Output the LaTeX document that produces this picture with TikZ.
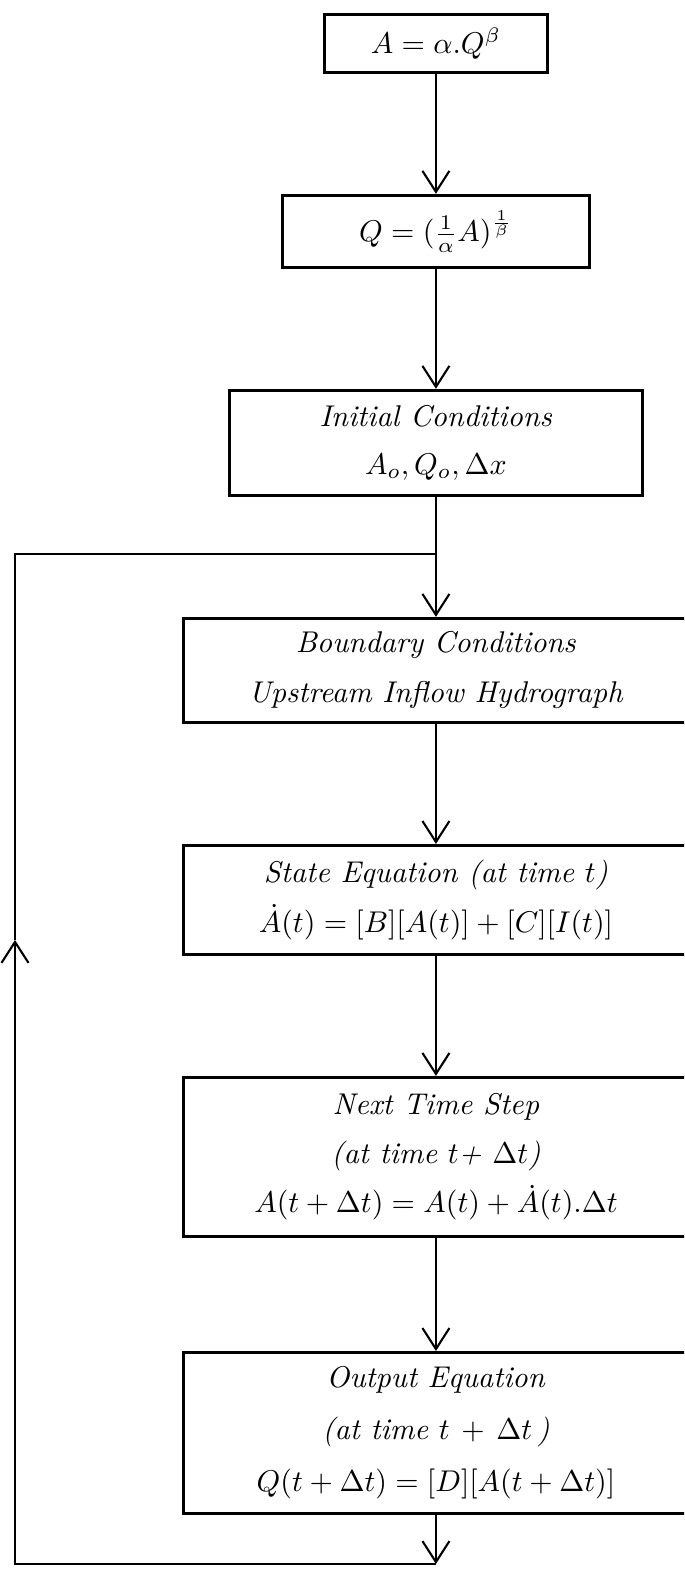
\documentclass[tikz,border=0pt]{standalone}
\usepackage{amsmath}
\usetikzlibrary{arrows.meta,positioning,calc}

\begin{document}
\begin{tikzpicture}[
  node distance=40pt,
  blk/.style={draw,line width=1pt,inner sep=2pt,align=center},
  wide/.style={blk,minimum width=168pt},
  conn/.style={line width=0.7pt,-{Straight Barb[length=7pt,width=9pt]}},
  ln/.style={line width=0.7pt}]
\useasboundingbox (0,0) rectangle (228pt,-523.3pt);
\clip (0,0) rectangle (228pt,-523.3pt);
\node[blk,minimum width=74.3pt,minimum height=19.3pt,anchor=north] (rating) at (145.3pt,-4.3pt) {$A = \alpha.Q^{\beta}$};
\node[blk,minimum width=102.3pt,minimum height=24pt,below=of rating] (inv) {$Q = (\frac{1}{\alpha}A)^{\frac{1}{\beta}}$};
\node[blk,minimum width=137.7pt,minimum height=35pt,below=of inv] (init)
  {\textit{Initial Conditions}\\[3.7pt] $A_o, Q_o, \Delta x$};
\node[wide,minimum height=34.7pt,below=of init] (bound)
  {\textit{Boundary Conditions}\\[4.7pt] \textit{Upstream Inflow Hydrograph}};
\node[wide,minimum height=36.3pt,below=of bound] (state)
  {\textit{State Equation (at time $t$)}\\[4.7pt] $\dot{A}(t) = [B][A(t)] + [C][I(t)]$};
\node[wide,minimum height=53pt,below=of state] (next)
  {\textit{Next Time Step}\\[4.3pt] \textit{(at time $t$+ $\Delta t$)}\\[4.3pt] $A(t + \Delta t) = A(t) + \dot{A}(t).\Delta t$};
\node[wide,minimum height=53.7pt,below=37.7pt of next] (outp)
  {\textit{Output Equation}\\[5.3pt] \textit{(at time $t\,+\,\Delta t$\,)}\\[5.3pt] $Q(t + \Delta t) = [D][A(t + \Delta t)]$};
% loop back
\coordinate (jn) at ($(init.south)!0.48!(bound.north)$);
\coordinate (bl) at (5pt,-521.3pt);
\coordinate (bot) at (outp.south |- bl);
\coordinate (up) at (5pt,-313.3pt);
\draw[conn] (rating) -- (inv);
\draw[conn] (inv) -- (init);
\draw[conn] (init) -- (bound);
\draw[conn] (bound) -- (state);
\draw[conn] (state) -- (next);
\draw[conn] (next) -- (outp);
\draw[conn] (outp) -- (bot);
\draw[conn] (bot) -- (bl) -- (up);
\draw[ln] (up) |- (jn);
\end{tikzpicture}
\end{document}
